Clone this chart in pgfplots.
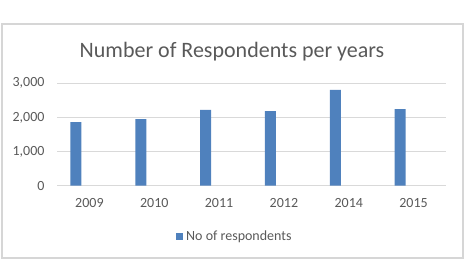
\documentclass[border=0pt]{standalone}
\usepackage{pgfplots}
\pgfplotsset{compat=1.18}
\usepackage{fontspec}
\setmainfont{Carlito}
\definecolor{barblue}{HTML}{4F81BD}
\definecolor{txtgray}{HTML}{595959}
\definecolor{gridgray}{HTML}{D9D9D9}
\definecolor{framegray}{HTML}{D6D6D6}

\pgfplotstableread{
idx year count
0 2009 1866
1 2010 1954
2 2011 2218
3 2012 2188
4 2014 2804
5 2015 2247
}\respondents

\begin{document}
\begin{tikzpicture}[x=1pt,y=1pt]
  % page area and chart frame
  \path[use as bounding box] (0pt,0pt) rectangle (468pt,262pt);
  \draw[framegray, line width=2pt] (1.5pt,4pt) rectangle (463pt,238pt);
  % title
  \node[text=txtgray, font=\fontsize{22}{26}\selectfont] at (232pt,210pt) {Number of Respondents per years};
  \begin{axis}[
    at={(57pt,76.3pt)}, anchor=south west,
    scale only axis,
    width=389pt, height=102.4pt,
    xmin=-0.5, xmax=5.5,
    ymin=0, ymax=3000,
    axis line style={draw=none},
    ytick={0,1000,2000,3000},
    ymajorgrids,
    grid style={gridgray, line width=0.8pt},
    major tick length=0pt,
    xtick={0,...,5},
    xticklabels={2009,2010,2011,2012,2014,2015},
    /pgf/number format/assume math mode=true,
    /pgf/number format/1000 sep={,},
    tick label style={text=txtgray, font=\fontsize{14}{16}\selectfont},
    xticklabel style={yshift=-9pt},
    yticklabel style={xshift=-9pt},
    clip=false,
  ]
    \addplot[ybar, bar width=11pt, bar shift=-13.5pt, fill=barblue, draw=none]
      table[x=idx, y=count] {\respondents};
  \end{axis}
  % legend
  \fill[barblue] (176pt,21.5pt) rectangle (183pt,28.5pt);
  \node[anchor=west, text=txtgray, font=\fontsize{14}{16}\selectfont, inner sep=0pt] at (186pt,25pt) {No of respondents};
\end{tikzpicture}
\end{document}
